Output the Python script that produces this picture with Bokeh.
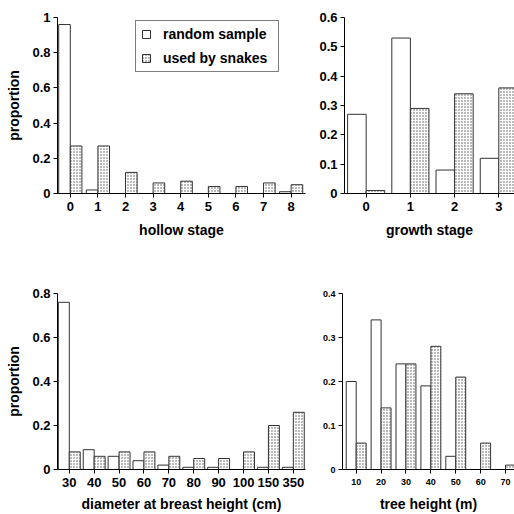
from bokeh.plotting import figure
from bokeh.models import ColumnDataSource, Range1d, FixedTicker, Legend, LegendItem
from bokeh.layouts import column, row
from bokeh.transform import dodge
from bokeh.embed import file_html
from bokeh.resources import INLINE

# ---- data ----
hollow_stage = ["0", "1", "2", "3", "4", "5", "6", "7", "8"]
hollow_random = [0.96, 0.02, 0.0, 0.0, 0.0, 0.0, 0.0, 0.0, 0.01]
hollow_snakes = [0.27, 0.27, 0.12, 0.06, 0.07, 0.04, 0.04, 0.06, 0.05]
hollow_yticks = [0, 0.2, 0.4, 0.6, 0.8, 1]

growth_stage = ["0", "1", "2", "3"]
growth_random = [0.27, 0.53, 0.08, 0.12]
growth_snakes = [0.01, 0.29, 0.34, 0.36]
growth_yticks = [0, 0.1, 0.2, 0.3, 0.4, 0.5, 0.6]

dbh_class = ["30", "40", "50", "60", "70", "80", "90", "100", "150", "350"]
dbh_random = [0.76, 0.09, 0.06, 0.04, 0.02, 0.01, 0.01, 0.0, 0.01, 0.01]
dbh_snakes = [0.08, 0.06, 0.08, 0.08, 0.06, 0.05, 0.05, 0.08, 0.20, 0.26]
dbh_yticks = [0, 0.2, 0.4, 0.6, 0.8]

height_class = ["10", "20", "30", "40", "50", "60", "70"]
height_random = [0.20, 0.34, 0.24, 0.19, 0.03, 0.0, 0.0]
height_snakes = [0.06, 0.14, 0.24, 0.28, 0.21, 0.06, 0.01]
height_yticks = [0, 0.1, 0.2, 0.3, 0.4]

series_labels = ["random sample", "used by snakes"]

FONT = "Liberation Sans"
EDGE = "#333333"
DOTS = "#555555"


def panel(cats, rnd, snk, yticks, xlabel, ylabel, width, height, xr, yend,
          bar_w, borders, tick_size, xstand, xlabstand, ylabstand):
    idx = list(range(len(cats)))
    src = ColumnDataSource(dict(idx=idx, random=rnd, snakes=snk))
    bl, br, bt, bb = borders
    p = figure(width=width, height=height, output_backend="svg",
               toolbar_location=None,
               x_range=Range1d(xr[0], xr[1]), y_range=Range1d(0, yend),
               min_border_left=bl, min_border_right=br,
               min_border_top=bt, min_border_bottom=bb,
               background_fill_color="white", border_fill_color="white",
               outline_line_color=None)
    r1 = p.vbar(x=dodge("idx", -bar_w / 2), width=bar_w, top="random", bottom=0,
                source=src, fill_color="white", line_color=EDGE, line_width=1)
    r2 = p.vbar(x=dodge("idx", bar_w / 2), width=bar_w, top="snakes", bottom=0,
                source=src, fill_color="white", line_color=EDGE, line_width=1,
                hatch_pattern="dot", hatch_scale=3, hatch_weight=1,
                hatch_color=DOTS)
    p.xgrid.visible = False
    p.ygrid.visible = False

    xa = p.xaxis[0]
    xa.ticker = FixedTicker(ticks=idx)
    xa.major_label_overrides = {i: c for i, c in zip(idx, cats)}
    xa.axis_label = xlabel
    xa.major_label_standoff = xstand
    xa.axis_label_standoff = xlabstand

    ya = p.yaxis[0]
    ya.ticker = FixedTicker(ticks=yticks)
    ya.major_label_overrides = {t: f"{t:g}" for t in yticks}
    ya.axis_label = ylabel
    ya.major_label_standoff = 3
    ya.axis_label_standoff = ylabstand

    for ax in (xa, ya):
        ax.axis_line_color = "black"
        ax.axis_line_width = 1
        ax.major_tick_line_color = "black"
        ax.major_tick_out = 4
        ax.major_tick_in = 0
        ax.minor_tick_line_color = None
        ax.major_label_text_font = FONT
        ax.major_label_text_font_style = "bold"
        ax.major_label_text_font_size = tick_size
        ax.major_label_text_color = "black"
        ax.axis_label_text_font = FONT
        ax.axis_label_text_font_style = "bold"
        ax.axis_label_text_font_size = "14px"
        ax.axis_label_text_color = "black"
    return p, r1, r2


tl, tl_r, tl_s = panel(hollow_stage, hollow_random, hollow_snakes, hollow_yticks,
                       "hollow stage", "proportion", 310, 258, (-0.464, 8.52), 1.0,
                       0.42, (57, 5, 16, 65), "13px", 4, 8, 7)
tr, _, _ = panel(growth_stage, growth_random, growth_snakes, growth_yticks,
                 "growth stage", None, 204, 258, (-0.49, 3.355), 0.6,
                 0.42, (34, 0, 17, 65), "13px", 4, 8, 7)
bl, _, _ = panel(dbh_class, dbh_random, dbh_snakes, dbh_yticks,
                 "diameter at breast height (cm)", "proportion", 310, 256,
                 (-0.474, 9.49), 0.8, 0.44, (57, 5, 35, 45), "13px", 4, 6, 7)
br, _, _ = panel(height_class, height_random, height_snakes, height_yticks,
                 "tree height (m)", None, 204, 256, (-0.55, 6.36), 0.4,
                 0.40, (32, 0, 35, 45), "9px", 5, 8, 7)

legend = Legend(items=[LegendItem(label=series_labels[0], renderers=[tl_r]),
                       LegendItem(label=series_labels[1], renderers=[tl_s])],
                location=(78, 121), margin=0, padding=5, spacing=8,
                glyph_width=10, glyph_height=10, label_standoff=12,
                label_height=16, label_width=110,
                label_text_font=FONT, label_text_font_style="bold",
                label_text_font_size="14px", label_text_color="black",
                border_line_color="black", border_line_width=1,
                background_fill_color="white", background_fill_alpha=1)
tl.add_layout(legend)

layout = column(row(tl, tr), row(bl, br))

open("out.html", "w").write(file_html(layout, INLINE))
